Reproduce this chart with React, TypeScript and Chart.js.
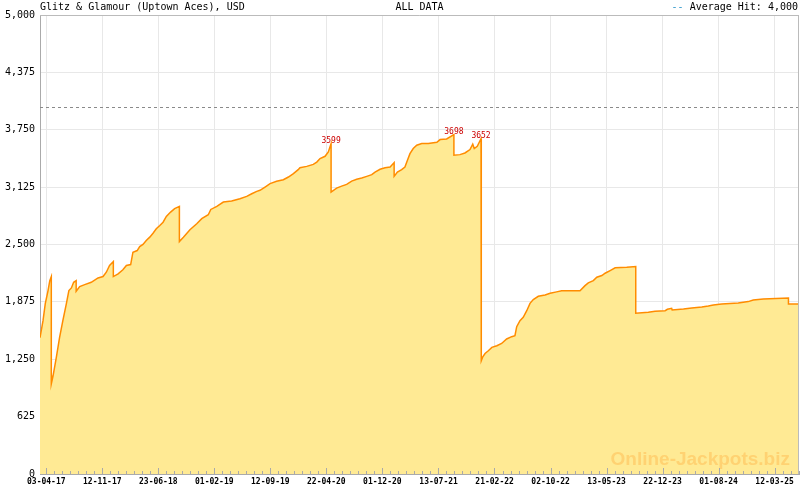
import { useEffect, useRef } from "react";
import { Chart, registerables } from "chart.js";

Chart.register(...registerables);

const chartTitle = "Glitz & Glamour (Uptown Aces), USD";
const rangeLabel = "ALL DATA";
const averageLabel = "Average Hit: 4,000";
const averageHit = 4000;
const watermarkText = "Online-Jackpots.biz";
const baseDate = "2017-04-03";

const xTickLabels = [
  "03-04-17", "12-11-17", "23-06-18", "01-02-19", "12-09-19", "22-04-20", "01-12-20",
  "13-07-21", "21-02-22", "02-10-22", "13-05-23", "22-12-23", "01-08-24", "12-03-25",
];

const axisMinDay = -25;
const axisMaxDay = 2997;
const yMax = 5000;
const yStep = 625;

// days since baseDate
const dayOffsets = [
  -25, -13, -4, 7, 14, 20,
  20, 27, 40, 53, 66, 80, 90, 100, 109, 119,
  119, 133, 153, 179, 206, 226, 239, 252, 267,
  267, 286, 305, 319, 336, 345, 362, 372, 385, 398, 412, 425, 438, 452, 465, 478, 495, 511, 530,
  530, 546, 572, 599, 619, 645, 655, 679, 705, 738, 771, 798, 818, 838, 851, 871, 891, 917, 944, 964, 984, 1003, 1010, 1037, 1063, 1077, 1090, 1110, 1123, 1134,
  1134, 1156, 1176, 1196, 1216, 1236, 1256, 1276, 1296, 1309, 1329, 1349, 1369, 1385,
  1385, 1398, 1415, 1428, 1438, 1448, 1461, 1475, 1495, 1521, 1555, 1568, 1594, 1623,
  1623, 1647, 1667, 1687, 1698, 1704, 1716, 1731,
  1732, 1738, 1747, 1760, 1774, 1794, 1813, 1833, 1853, 1866, 1873, 1886, 1899, 1913, 1926, 1939, 1959, 1986, 2006, 2032, 2052, 2125, 2145, 2158, 2178, 2192, 2212, 2225, 2245, 2265, 2311, 2347,
  2347, 2397, 2424, 2464, 2473, 2490, 2492, 2537, 2570, 2610, 2636, 2656, 2689, 2755, 2795, 2815, 2855, 2955,
  2955, 2997,
];

const jackpotValues = [
  1485, 1670, 1856, 1998, 2107, 2150,
  983, 1070, 1270, 1488, 1670, 1856, 1998, 2027, 2088, 2107,
  1990, 2041, 2063, 2088, 2136, 2151, 2198, 2271, 2314,
  2151, 2180, 2224, 2271, 2282, 2416, 2434, 2478, 2500, 2544, 2580, 2623, 2671, 2707, 2743, 2806, 2853, 2890, 2915,
  2533, 2580, 2660, 2726, 2781, 2824, 2882, 2915, 2962, 2973, 2999, 3024, 3053, 3079, 3090, 3126, 3163, 3188, 3206, 3235, 3272, 3315, 3337, 3351, 3373, 3398, 3436, 3461, 3508, 3599,
  3071, 3115, 3136, 3155, 3191, 3210, 3224, 3242, 3261, 3289, 3319, 3337, 3344, 3392,
  3242, 3289, 3315, 3344, 3417, 3490, 3545, 3581, 3599, 3599, 3614, 3643, 3650, 3698,
  3472, 3479, 3497, 3534, 3592, 3545, 3570, 3652,
  1234, 1277, 1313, 1343, 1379, 1397, 1422, 1471, 1496, 1507, 1605, 1670, 1706, 1779, 1859, 1900, 1936, 1951, 1968, 1984, 1995, 1995, 2052, 2082, 2107, 2143, 2162, 2187, 2216, 2246, 2252, 2260,
  1752, 1761, 1772, 1779, 1794, 1805, 1787, 1798, 1809, 1820, 1831, 1842, 1853, 1864, 1878, 1896, 1907, 1918,
  1853, 1853,
];

const peakValues = [3599, 3698, 3652];

const MONO = "'DejaVu Sans Mono', monospace";

function labelToDay(label: string): number {
  const [dd, mm, yy] = label.split("-").map(Number);
  const base = Date.parse(baseDate + "T00:00:00Z");
  return Math.round((Date.UTC(2000 + yy, mm - 1, dd) - base) / 86400000);
}

const tickDays = xTickLabels.map(labelToDay);

const decorPlugin = {
  id: "decor",
  afterDatasetsDraw(chart: any) {
    const { ctx, chartArea, scales } = chart;
    const xs = scales.x;
    const ys = scales.y;
    ctx.save();

    // watermark
    ctx.font = "bold 19px 'Liberation Sans', Arial, sans-serif";
    ctx.fillStyle = "#FFD272";
    ctx.textAlign = "right";
    ctx.textBaseline = "alphabetic";
    ctx.fillText(watermarkText, chartArea.right - 9, chartArea.bottom - 9);

    // average line
    const ay = Math.round(ys.getPixelForValue(averageHit)) + 0.5;
    ctx.strokeStyle = "#8a8a8a";
    ctx.lineWidth = 1;
    ctx.setLineDash([3, 3]);
    ctx.beginPath();
    ctx.moveTo(chartArea.left, ay);
    ctx.lineTo(chartArea.right, ay);
    ctx.stroke();
    ctx.setLineDash([]);

    // top / right borders
    ctx.strokeStyle = "#bbbbbb";
    ctx.beginPath();
    ctx.moveTo(chartArea.left, Math.round(chartArea.top) + 0.5);
    ctx.lineTo(chartArea.right, Math.round(chartArea.top) + 0.5);
    ctx.moveTo(Math.round(chartArea.right) - 0.5, chartArea.top);
    ctx.lineTo(Math.round(chartArea.right) - 0.5, chartArea.bottom);
    ctx.stroke();

    // bottom ticks (major + minor)
    const n = tickDays.length;
    const minorStep = (tickDays[n - 1] - tickDays[0]) / (n - 1) / 7;
    const kStart = Math.ceil((axisMinDay - tickDays[0]) / minorStep);
    const kEnd = Math.floor((axisMaxDay - tickDays[0]) / minorStep);
    ctx.strokeStyle = "#aaaaaa";
    ctx.beginPath();
    for (let k = kStart; k <= kEnd; k++) {
      const x = Math.round(xs.getPixelForValue(tickDays[0] + k * minorStep)) + 0.5;
      const len = k % 7 === 0 ? 6 : 3;
      ctx.moveTo(x, chartArea.bottom);
      ctx.lineTo(x, chartArea.bottom - len);
    }
    ctx.stroke();

    // peak labels
    ctx.font = "8px " + MONO;
    ctx.fillStyle = "#cc0000";
    ctx.textAlign = "center";
    ctx.textBaseline = "alphabetic";
    peakValues.forEach((pv) => {
      const i = jackpotValues.indexOf(pv);
      if (i < 0) return;
      const px = xs.getPixelForValue(dayOffsets[i]);
      const py = ys.getPixelForValue(pv);
      ctx.fillText(String(pv), px, py - 1);
    });

    ctx.restore();
  },
  afterDraw(chart: any) {
    const { ctx, chartArea } = chart;
    ctx.save();
    ctx.font = "10px " + MONO;
    ctx.textBaseline = "middle";
    ctx.fillStyle = "#000";
    ctx.textAlign = "left";
    ctx.fillText(chartTitle, chartArea.left, 7);
    ctx.textAlign = "center";
    ctx.fillText(rangeLabel, (chartArea.left + chartArea.right) / 2, 7);
    // legend
    const full = "-- " + averageLabel;
    const w = ctx.measureText(full).width;
    const x0 = 798 - w;
    ctx.textAlign = "left";
    ctx.fillStyle = "#3399cc";
    ctx.fillText("--", x0, 7);
    ctx.fillStyle = "#000";
    ctx.fillText(averageLabel, x0 + ctx.measureText("-- ").width, 7);
    ctx.restore();
  },
};

export default function App() {
  const ref = useRef<HTMLCanvasElement>(null);
  useEffect(() => {
    document.body.style.margin = "0";
    const canvas = ref.current;
    if (!canvas) return;
    const chart = new Chart(canvas, {
      type: "line",
      data: {
        datasets: [
          {
            data: dayOffsets.map((d, i) => ({ x: d, y: jackpotValues[i] })),
            borderColor: "#FF8C00",
            borderWidth: 1.5,
            backgroundColor: "#FFEA94",
            fill: "origin",
            pointRadius: 0,
            tension: 0,
          },
        ],
      },
      options: {
        animation: false,
        responsive: false,
        events: [],
        layout: { padding: { top: 15, right: 1, left: 0, bottom: 0 } },
        plugins: { legend: { display: false }, tooltip: { enabled: false }, title: { display: false } },
        scales: {
          x: {
            type: "linear",
            min: axisMinDay,
            max: axisMaxDay,
            afterBuildTicks: (s: any) => {
              s.ticks = tickDays.map((v) => ({ value: v }));
            },
            afterFit: (s: any) => {
              s.height = 16;
            },
            grid: { color: "#e8e8e8", drawTicks: false },
            border: { color: "#aaaaaa" },
            ticks: {
              autoSkip: false,
              maxRotation: 0,
              padding: 3,
              color: "#000",
              font: { family: MONO, size: 8, weight: "bold" },
              callback: (v: any) => {
                const i = tickDays.indexOf(Number(v));
                return i >= 0 ? xTickLabels[i] : "";
              },
            },
          },
          y: {
            min: 0,
            max: yMax,
            afterFit: (s: any) => {
              s.width = 40;
            },
            grid: { color: "#e8e8e8", drawTicks: false },
            border: { color: "#aaaaaa" },
            ticks: {
              stepSize: yStep,
              padding: 5,
              color: "#000",
              font: { family: MONO, size: 10 },
              callback: (v: any) => Number(v).toLocaleString("en-US"),
            },
          },
        },
      },
      plugins: [decorPlugin],
    });
    return () => chart.destroy();
  }, []);
  return <canvas ref={ref} width={800} height={490} style={{ display: "block" }} />;
}
